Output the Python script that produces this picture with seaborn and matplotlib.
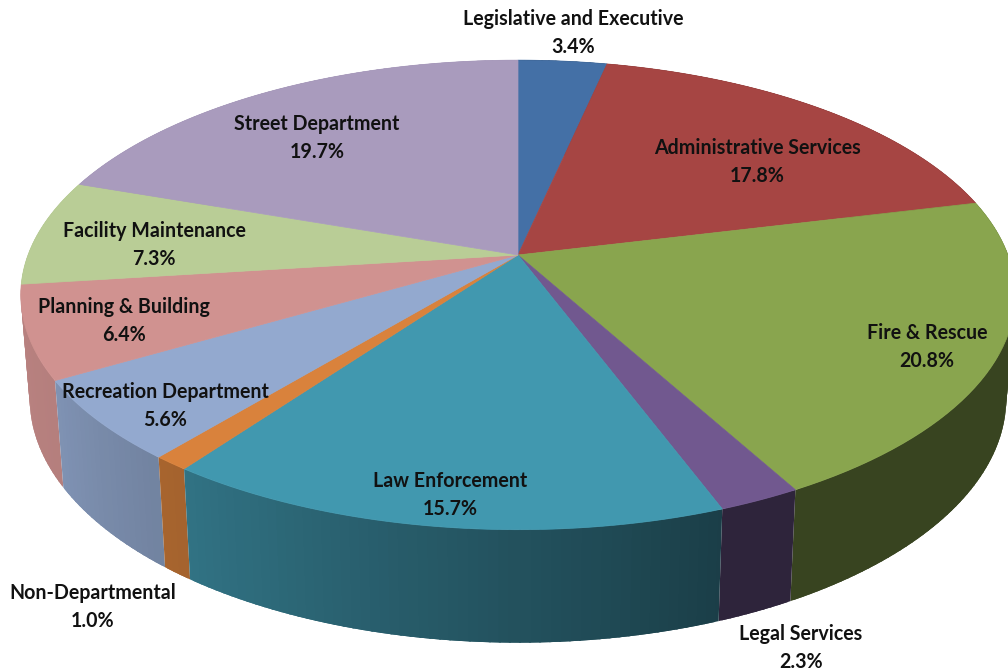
import numpy as np
import matplotlib
matplotlib.use("Agg")
import matplotlib.pyplot as plt
import matplotlib.transforms as mtransforms
from matplotlib.path import Path
import seaborn as sns

# budget shares, clockwise from 12 o'clock
departments = ["Legislative and Executive", "Administrative Services", "Fire & Rescue",
               "Legal Services", "Law Enforcement", "Non-Departmental",
               "Recreation Department", "Planning & Building", "Facility Maintenance",
               "Street Department"]
shares = [3.4, 17.8, 20.8, 2.3, 15.7, 1.0, 5.6, 6.4, 7.3, 19.7]
colors = ["#4470A6", "#A64543", "#89A54E", "#71588F", "#4198AF",
          "#D9823C", "#93A9CF", "#D09290", "#B9CD96", "#A99BBD"]
label_x = [573, 757, 927, 801, 450, 93, 165, 124, 154, 317]
label_y = [33, 162, 347, 648, 495, 607, 406, 321, 245, 138]

# perspective of the pie, measured in picture pixels
CX, CY, RX, RY, K = 518, 255, 490, 228, 0.17


class Tilt(mtransforms.Transform):
    """unit pie plane -> picture pixels, far side smaller"""
    input_dims = 2
    output_dims = 2

    def transform_non_affine(self, values):
        values = np.asarray(values)
        w = 1 + K * values[:, 1]
        return np.column_stack([CX + RX * values[:, 0] / w, CY - RY * values[:, 1] / w])

    def transform_path_non_affine(self, path):
        # curves do not stay bezier under perspective so sample them
        pts = []
        for seg, code in path.iter_bezier():
            if seg.degree < 1:
                pts.append(np.atleast_2d(seg.control_points))
            else:
                pts.append(seg(np.linspace(0, 1, 24)))
        return Path(self.transform_non_affine(np.vstack(pts)))


def to_bottom(xy):
    # lower face of the disc: slightly narrower, pushed down
    return np.column_stack([CX + 0.982 * (xy[:, 0] - CX), CY + 102 + 1.04 * (xy[:, 1] - CY)])


def wall_shade(deg):
    return np.interp(deg, [160, 216, 240, 270], [0.41, 0.76, 0.87, 0.90])


sns.set_theme(style="white")
plt.rcParams["font.family"] = ["Lato", "DejaVu Sans"]

fig, ax = plt.subplots(figsize=(10.08, 6.71))
fig.subplots_adjust(0, 0, 1, 1)
palette = sns.color_palette(colors)
tilt = Tilt()

# side wall, built out of thin strips so the shading can change along the rim
edges = np.cumsum([0] + shares) / sum(shares) * 360
strips = []
for i, color in enumerate(palette):
    steps = np.linspace(edges[i], edges[i + 1], max(2, int(edges[i + 1] - edges[i]) + 2))
    for a, b in zip(steps[:-1], steps[1:]):
        # small overlap inside a slice, otherwise hairlines show between strips
        rad = np.radians([max(a - 0.6, edges[i]), min(b + 0.6, edges[i + 1])])
        top = tilt.transform_non_affine(np.column_stack([np.sin(rad), np.cos(rad)]))
        strips.append((top[:, 1].mean(), top, to_bottom(top), np.array(color) * wall_shade((a + b) / 2)))

# far strips first, the near ones paint over them
strips.sort(key=lambda s: s[0])
for _, top, low, shade in strips:
    ax.fill([top[0, 0], top[1, 0], low[1, 0], low[0, 0]],
            [top[0, 1], top[1, 1], low[1, 1], low[0, 1]],
            facecolor=shade, edgecolor="none", lw=0, zorder=1)

# top face
wedges, _ = ax.pie(shares, colors=palette, startangle=90, counterclock=False,
                   wedgeprops={"linewidth": 0.5})
for w, color in zip(wedges, palette):
    w.set_edgecolor(color)
    w.set_transform(tilt + ax.transData)
    w.set_zorder(2)

ax.set_aspect("auto")
ax.set_xlim(0, 1008)
ax.set_ylim(671, 0)
ax.axis("off")

for name, val, x, y in zip(departments, shares, label_x, label_y):
    ax.text(x, y, f"{name}\n{val:.1f}%", ha="center", va="center", fontsize=14.1,
            fontweight="bold", color="#111111", linespacing=1.45, zorder=3)

fig.savefig("out.png", dpi=100)
